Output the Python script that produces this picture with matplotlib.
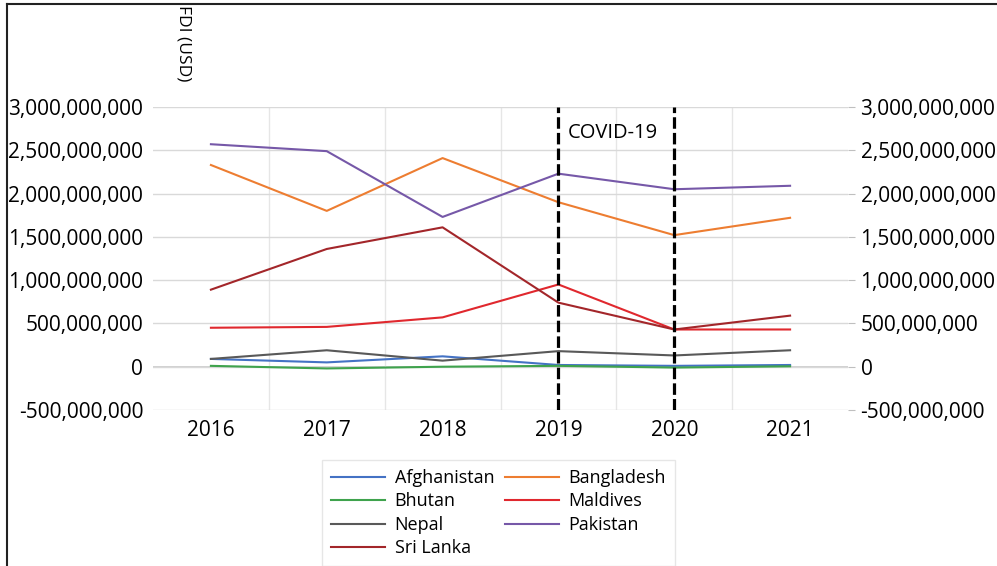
import matplotlib
matplotlib.use("Agg")
import matplotlib.pyplot as plt
from matplotlib.lines import Line2D
from matplotlib.ticker import FuncFormatter, MultipleLocator

plt.rcParams["font.family"] = ["Open Sans", "DejaVu Sans"]

years = ["2016", "2017", "2018", "2019", "2020", "2021"]
afghanistan = [0.09e9, 0.05e9, 0.12e9, 0.02e9, 0.01e9, 0.02e9]
bangladesh = [2.33e9, 1.80e9, 2.41e9, 1.90e9, 1.52e9, 1.72e9]
bhutan = [0.01e9, -0.02e9, 0.00e9, 0.01e9, -0.01e9, 0.005e9]
maldives = [0.45e9, 0.46e9, 0.57e9, 0.95e9, 0.43e9, 0.43e9]
nepal = [0.09e9, 0.19e9, 0.07e9, 0.18e9, 0.13e9, 0.19e9]
pakistan = [2.57e9, 2.49e9, 1.73e9, 2.23e9, 2.05e9, 2.09e9]
sri_lanka = [0.89e9, 1.36e9, 1.61e9, 0.74e9, 0.43e9, 0.59e9]

series = [
    ("Afghanistan", afghanistan, "#4472C4"),
    ("Bangladesh", bangladesh, "#ED7D31"),
    ("Bhutan", bhutan, "#3FA34D"),
    ("Maldives", maldives, "#E0282E"),
    ("Nepal", nepal, "#595959"),
    ("Pakistan", pakistan, "#7658A8"),
    ("Sri Lanka", sri_lanka, "#A3262A"),
]
covid_years = ["2019", "2020"]

fig = plt.figure(figsize=(9.97, 5.66), dpi=100)
ax = fig.add_axes([153 / 997, 1 - 410 / 566, (848 - 153) / 997, (410 - 107) / 566])

x = list(range(len(years)))
handles = {}
for name, vals, col in series:
    (ln,) = ax.plot(x, vals, color=col, lw=1.5, label=name)
    handles[name] = ln

for cy in covid_years:
    ax.axvline(years.index(cy), color="black", lw=2.3, ls=(0, (3.6, 1.3)), zorder=5)
ax.text(years.index("2019") + 0.08, 2.70e9, "COVID-19", fontsize=14.5, va="center", ha="left")

ax.set_xlim(-0.5, len(years) - 0.5)
ax.set_ylim(-0.5e9, 3e9)
ax.yaxis.set_major_locator(MultipleLocator(0.5e9))
fmt = FuncFormatter(lambda v, p: f"{v:,.0f}")
ax.yaxis.set_major_formatter(fmt)
ax.set_xticks(x)
ax.set_xticklabels(years)
ax.set_xticks([i + 0.5 for i in x[:-1]], minor=True)
ax.grid(True, axis="y", which="major", color="#D9D9D9", lw=1)
ax.grid(True, axis="x", which="minor", color="#E6E6E6", lw=1)
ax.axhline(0, color="#C8C8C8", lw=1.2, zorder=0.5)
ax.tick_params(axis="x", which="both", length=0, labelsize=15, pad=7)
ax.tick_params(axis="y", length=0, labelsize=15, pad=7)
for s in ax.spines.values():
    s.set_visible(False)

ax2 = ax.twinx()
ax2.set_ylim(ax.get_ylim())
ax2.yaxis.set_major_locator(MultipleLocator(0.5e9))
ax2.yaxis.set_major_formatter(fmt)
ax2.tick_params(axis="y", length=5, color="#BFBFBF", labelsize=15, pad=4)
for s in ax2.spines.values():
    s.set_visible(False)

fig.text(183 / 997, 1 - 5 / 566, "FDI (USD)", rotation=270, fontsize=12.5, ha="center", va="top")

order = ["Afghanistan", "Bhutan", "Nepal", "Sri Lanka", "Bangladesh", "Maldives", "Pakistan"]
leg = fig.legend([handles[n] for n in order], order, ncol=2, loc="upper center",
                 bbox_to_anchor=(0.5, 1 - 451 / 566), fontsize=13, frameon=True,
                 fancybox=False, edgecolor="#E0E0E0", handlelength=3.0,
                 handletextpad=0.5, labelspacing=0.3, columnspacing=0.6,
                 borderpad=0.5)
leg.get_frame().set_linewidth(1)

fig.add_artist(Line2D([7 / 997, 7 / 997], [0, 1 - 4 / 566], color="#222222", lw=1.5))
fig.add_artist(Line2D([7 / 997, 1], [1 - 4 / 566, 1 - 4 / 566], color="#222222", lw=1.5))

fig.savefig("out.png", dpi=100)
